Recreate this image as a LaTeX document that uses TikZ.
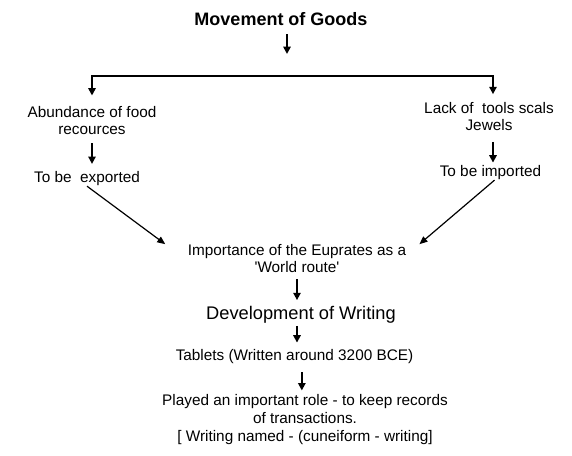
\documentclass[tikz,border=0pt]{standalone}
\usepackage{fontspec}
\setmainfont{Liberation Sans}
\usetikzlibrary{arrows.meta,calc}

\begin{document}
\begin{tikzpicture}[
    x=0.75pt, y=-0.75pt,
    label text/.style={anchor=base, inner sep=0pt, outer sep=0pt, align=center, font=\fontsize{11.5}{13.3}\selectfont},
    flow arrow/.style={-{Triangle[width=5.5pt,length=5.5pt]}, line width=1.3pt},
    slant arrow/.style={-{Triangle[width=5pt,length=6pt]}, line width=0.9pt}
]
    \useasboundingbox (0,0) rectangle (572,456);

    % Heading and the fork below it
    \node[label text, font=\fontsize{13.5}{15}\selectfont\bfseries] (goods) at (281,26) {Movement of Goods};
    \coordinate (goodsEnd) at (287,54);
    \coordinate (forkL) at (92,76);
    \coordinate (forkR) at (493,76);
    \draw[flow arrow, shorten <=6pt] (goods.south -| goodsEnd) -- (goodsEnd);

    % Left branch
    \node[label text] (abund) at (92,135) {Abundance of food\\recources};
    \node[label text] (export) at (87,183) {To be\ \ exported};

    % Right branch
    \node[label text] (lack) at (489,131) {Lack of\ \ tools scals\\Jewels};
    \node[label text] (import) at (490.5,177) {To be imported};

    \draw[{Triangle[width=5.5pt,length=5.5pt]}-{Triangle[width=5.5pt,length=5.5pt]}, line width=1.3pt,
        shorten <=8pt, shorten >=6pt]
        (forkL |- abund.north) -- (forkL) -- (forkR) -- (forkR |- lack.north);
    \draw[flow arrow, shorten <=6pt, shorten >=6pt] (abund.south) -- (abund.south |- export.north);
    \draw[flow arrow, shorten <=8pt, shorten >=2.5pt] (lack.south -| forkR) -- (forkR |- import.north);

    % Central column
    \node[label text] (euph) at (297,273) {Importance of the Euprates as a\\\textquotesingle World route\textquotesingle};
    \node[label text, font=\fontsize{13.7}{15}\selectfont] (dev) at (301,320) {Development of Writing};
    \node[label text] (tab) at (294.5,361) {Tablets (Written around 3200 BCE)};
    \node[label text] (role) at (305,441) {Played an important role - to keep records\\of transactions.\\{[} Writing named - (cuneiform - writing]};

    \draw[slant arrow] (export.south) -- ([xshift=-17pt]euph.north west);
    \draw[slant arrow] ([xshift=3pt]import.south) -- ([xshift=10pt]euph.north east);
    \draw[flow arrow, shorten <=4.5pt, shorten >=5pt] (euph.south) -- (euph.south |- dev.north);
    \draw[flow arrow, shorten <=1.6pt, shorten >=5.5pt] (euph.south |- dev.south) -- (euph.south |- tab.north);
    \draw[flow arrow, shorten <=6pt, shorten >=3pt] ([xshift=5.5pt]tab.south) -- ([xshift=5.5pt]tab.south |- role.north);
\end{tikzpicture}
\end{document}
